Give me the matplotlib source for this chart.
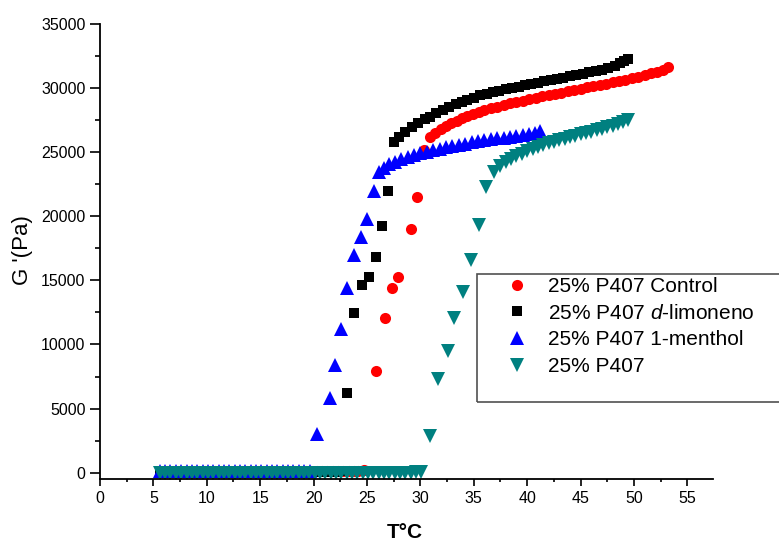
import matplotlib
matplotlib.use('Agg')
import matplotlib.pyplot as plt
from matplotlib.patches import Rectangle
from matplotlib.ticker import MultipleLocator

plt.rcParams['font.family'] = 'Liberation Sans'
plt.rcParams['mathtext.fontset'] = 'custom'
plt.rcParams['mathtext.rm'] = 'Liberation Sans'
plt.rcParams['mathtext.it'] = 'Liberation Sans:italic'

# 25% P407 Control (red circles)
ctrl_T = [5.8, 6.3, 6.8, 7.3, 7.8, 8.3, 8.8, 9.3, 9.8, 10.3,
          10.8, 11.3, 11.8, 12.3, 12.8, 13.3, 13.8, 14.3, 14.8, 15.3,
          15.8, 16.3, 16.8, 17.3, 17.8, 18.3, 18.8, 19.3, 19.8, 20.3,
          20.8, 21.3, 21.8, 22.3, 22.8, 23.3, 23.8, 24.2, 24.7,
          25.8, 26.7, 27.3, 27.9, 29.1, 29.7, 30.3,
          30.9, 31.4, 31.9, 32.4, 32.9, 33.4, 33.9, 34.4, 34.9, 35.5,
          36.0, 36.6, 37.2, 37.8, 38.4, 39.0, 39.6, 40.2, 40.8, 41.4,
          42.0, 42.6, 43.2, 43.8, 44.4, 45.0, 45.6, 46.2, 46.8, 47.4,
          48.0, 48.6, 49.2, 49.8, 50.4, 51.0, 51.6, 52.2, 52.7, 53.2]
ctrl_G = [90, 100, 110, 100, 90, 110, 120, 100, 110, 120,
          110, 100, 120, 130, 110, 120, 130, 120, 110, 130,
          140, 120, 130, 140, 130, 120, 140, 150, 130, 140,
          150, 140, 150, 160, 150, 160, 170, 160, 180,
          7930, 12090, 14430, 15240, 18980, 21480, 25200,
          26170, 26500, 26780, 27030, 27250, 27450, 27630, 27800, 27960, 28130,
          28280, 28420, 28550, 28680, 28800, 28920, 29030, 29140, 29250, 29350,
          29450, 29550, 29650, 29750, 29850, 29950, 30050, 30150, 30250, 30350,
          30450, 30560, 30670, 30780, 30890, 31010, 31140, 31280, 31430, 31620]

# 25% P407 d-limoneno (black squares)
limo_T = [5.6, 6.1, 6.6, 7.1, 7.6, 8.1, 8.6, 9.1, 9.6, 10.1,
          10.6, 11.1, 11.6, 12.1, 12.6, 13.1, 13.6, 14.1, 14.6, 15.1,
          15.6, 16.1, 16.6, 17.1, 17.6, 18.1, 18.6, 19.1, 19.6, 20.1,
          20.6, 21.1, 21.6, 22.1, 22.6,
          23.15, 23.74, 24.56, 25.18, 25.8, 26.43, 26.99,
          27.5, 28.0, 28.6, 29.2, 29.8, 30.4, 30.9, 31.5, 32.1, 32.7,
          33.3, 33.9, 34.4, 35.0, 35.6, 36.2, 36.8, 37.4, 38.0, 38.6,
          39.2, 39.8, 40.4, 41.0, 41.6, 42.2, 42.8, 43.4, 44.0, 44.6,
          45.2, 45.8, 46.4, 47.0, 47.6, 48.2, 48.7, 49.1, 49.4]
limo_G = [40, 50, 40, 50, 60, 50, 40, 50, 60, 50,
          60, 50, 60, 70, 60, 50, 60, 70, 60, 70,
          80, 70, 60, 70, 80, 70, 80, 90, 80, 70,
          80, 90, 100, 90, 100,
          6220, 12430, 14640, 15270, 16800, 19240, 21950,
          25800, 26200, 26600, 26990, 27300, 27560, 27770, 28030, 28280, 28520,
          28730, 28920, 29070, 29260, 29430, 29560, 29680, 29790, 29900, 30010,
          30120, 30220, 30320, 30420, 30520, 30620, 30710, 30810, 30910, 31010,
          31110, 31220, 31330, 31450, 31580, 31740, 31950, 32150, 32250]

# 25% P407 1-menthol (blue triangles)
ment_T = [5.6, 6.1, 6.6, 7.1, 7.6, 8.1, 8.6, 9.1, 9.6, 10.1,
          10.6, 11.1, 11.6, 12.1, 12.6, 13.1, 13.6, 14.1, 14.6, 15.1,
          15.6, 16.1, 16.6, 17.1, 17.6, 18.1, 18.6, 19.1, 19.7,
          20.3, 21.5, 22.05, 22.56, 23.15, 23.8, 24.46, 25.02, 25.68,
          26.1, 26.6, 27.1, 27.6, 28.2, 28.8, 29.4, 30.0, 30.6, 31.2,
          31.8, 32.4, 33.0, 33.6, 34.2, 34.8, 35.4, 36.0, 36.6, 37.2,
          37.8, 38.4, 39.0, 39.6, 40.2, 40.7, 41.2]
ment_G = [130, 120, 110, 120, 130, 110, 120, 130, 120, 110,
          120, 130, 120, 110, 120, 130, 120, 110, 130, 120,
          110, 120, 130, 120, 110, 120, 130, 120, 140,
          2990, 5800, 8400, 11180, 14430, 16960, 18400, 19790, 21970,
          23480, 23800, 24050, 24250, 24450, 24620, 24780, 24920, 25050, 25170,
          25280, 25390, 25490, 25580, 25670, 25760, 25840, 25920, 26000, 26070,
          26140, 26220, 26290, 26370, 26450, 26530, 26620]

# 25% P407 (teal down triangles)
p407_T = [5.6, 6.1, 6.6, 7.1, 7.6, 8.1, 8.6, 9.1, 9.6, 10.1,
          10.6, 11.1, 11.6, 12.1, 12.6, 13.1, 13.6, 14.1, 14.6, 15.1,
          15.6, 16.1, 16.6, 17.1, 17.6, 18.1, 18.6, 19.1, 19.6, 20.1,
          20.6, 21.1, 21.6, 22.1, 22.6, 23.1, 23.6, 24.1, 24.6, 25.1,
          25.6, 26.1, 26.6, 27.1, 27.6, 28.1, 28.6, 29.1, 29.6, 30.1,
          30.87, 31.68, 32.62, 33.18, 34.02, 34.7, 35.46, 36.15, 36.87,
          37.5, 38.0, 38.5, 39.0, 39.5, 40.0, 40.5, 41.0, 41.5, 42.0,
          42.5, 43.0, 43.5, 44.0, 44.5, 45.0, 45.5, 46.0, 46.5, 47.0,
          47.5, 48.0, 48.5, 49.0, 49.4]
p407_G = [-40, -30, -40, -50, -40, -30, -40, -30, -40, -50,
          -40, -30, -40, -30, -40, -50, -40, -30, -40, -30,
          -40, -30, -20, -30, -40, -30, -20, -30, -20, -30,
          -20, -30, -20, -10, -20, -30, -20, -10, -20, -10,
          -20, -10, 0, -10, 0, 10, 0, 10, 20, 40,
          2860, 7280, 9520, 12040, 14070, 16590, 19300, 22310, 23450,
          23900, 24200, 24450, 24670, 24870, 25060, 25230, 25390, 25540, 25680,
          25810, 25930, 26050, 26170, 26280, 26390, 26500, 26610, 26720, 26840,
          26960, 27080, 27220, 27380, 27520]

W, H = 779, 542
fig = plt.figure(figsize=(W / 100, H / 100), dpi=100)
ax = fig.add_axes([100 / W, 1 - 479.3 / H, 613 / W, 455.3 / H])

ax.plot(ctrl_T, ctrl_G, 'o', color='red', ms=8, mew=0, ls='none',
        label='25% P407 Control')
ax.plot(limo_T, limo_G, 's', color='black', ms=7, mew=0, ls='none',
        label='25% P407 $\\mathit{d}$-limoneno')
ax.plot(ment_T, ment_G, '^', color='blue', ms=9.5, mew=0, ls='none',
        label='25% P407 1-menthol')
ax.plot(p407_T, p407_G, 'v', color='#008080', ms=9.5, mew=0, ls='none',
        label='25% P407')

ax.set_xlim(0, 57.4)
ax.set_ylim(-515, 35000)
for s in ['top', 'right']:
    ax.spines[s].set_visible(False)
for s in ['left', 'bottom']:
    ax.spines[s].set_linewidth(1.3)

ax.xaxis.set_major_locator(MultipleLocator(5))
ax.xaxis.set_minor_locator(MultipleLocator(2.5))
ax.yaxis.set_major_locator(MultipleLocator(5000))
ax.yaxis.set_minor_locator(MultipleLocator(2500))
ax.tick_params(which='both', direction='out', labelsize=11.5, width=1.2)
ax.tick_params(axis='x', which='major', length=5)
ax.tick_params(axis='x', which='minor', length=2.5)
ax.tick_params(axis='y', which='major', length=7)
ax.tick_params(axis='y', which='minor', length=3.5)

ax.set_xlabel('T°C', fontsize=15, fontweight='bold')
ax.set_ylabel("G '(Pa)", fontsize=16)
ax.xaxis.set_label_coords(0.4976, -0.095)
ax.yaxis.set_label_coords(-0.11, 0.504)

ax.legend(loc='upper left', bbox_to_anchor=(507 / W, 1 - 277 / H),
          bbox_transform=fig.transFigure, frameon=False, fontsize=15,
          handlelength=0.95, handletextpad=1.0, borderpad=0,
          borderaxespad=0, labelspacing=0.37, numpoints=1)
fig.add_artist(Rectangle((477 / W, 1 - 402.3 / H), (800 - 477) / W,
                         (402.3 - 274) / H, transform=fig.transFigure,
                         fill=False, ec='#505050', lw=1.2))

fig.savefig('out.png', dpi=100)
